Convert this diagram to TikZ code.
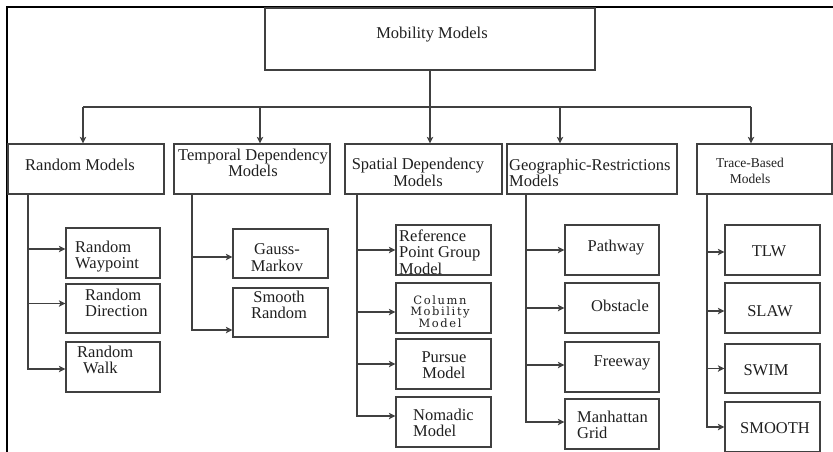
\documentclass[tikz,border=0pt]{standalone}
\usepackage{fontspec}
\setmainfont{Liberation Serif}
\newfontfamily\colfont[LetterSpace=14]{DejaVu Serif}
\usetikzlibrary{arrows.meta}
\tikzset{
  box/.style={draw=black!75, line width=1.2pt, inner sep=0pt},
  txt/.style={inner sep=0pt, text=black!88, font=\fontsize{16.5}{16.5}\selectfont},
  smalltxt/.style={inner sep=0pt, text=black!88, font=\fontsize{13.5}{16}\selectfont},
  coltxt/.style={inner sep=0pt, text=black!88, font=\colfont\fontsize{11.5}{10.5}\selectfont},
  conn/.style={draw=black!75, line width=1.1pt},
  arr/.style={conn, -{Stealth[length=6.5pt,width=6.5pt,inset=1.5pt]}},
  frame/.style={draw=black, line width=1.4pt}
}
\begin{document}
\begin{tikzpicture}[x=1pt,y=-1pt]
\useasboundingbox (0,0) rectangle (833,451);
% frame
\draw[frame] (7,452) -- (7,7) -- (834,7);
% level 0
\node[box, minimum width=330, minimum height=62] (root) at (430,39) {};
\node[txt] (troot) at (432,35) {Mobility Models};
% level 1
\node[box, minimum width=156, minimum height=50] (random) at (86,169) {};
\node[box, minimum width=156, minimum height=50] (temporal) at (252,169) {};
\node[box, minimum width=157, minimum height=50] (spatial) at (423.5,169) {};
\node[box, minimum width=170, minimum height=50] (geo) at (592,169) {};
\node[box, minimum width=135, minimum height=50] (trace) at (764.5,169) {};
\node[txt] (trandom) at (80,165) {Random Models};
\node[txt, align=center] (ttemporal) at (253,163) {Temporal Dependency\\Models};
\node[txt, align=center] (tspatial) at (418,172.5) {Spatial Dependency\\Models};
\node[txt, align=left, anchor=west] (tgeo) at (509,173) {Geographic-Restrictions\\Models};
\node[smalltxt, align=center] (ttrace) at (750,171) {Trace-Based\\Models};
% level 2: random
\node[box, minimum width=94, minimum height=50] (rwp) at (113,253) {};
\node[box, minimum width=94, minimum height=49] (rdir) at (113,308.5) {};
\node[box, minimum width=94, minimum height=50] (rwalk) at (113,367) {};
\node[txt, align=left, anchor=west] (trwp) at (75,256.5) {Random\\Waypoint};
\node[txt, align=left, anchor=west] (trdir) at (85,303) {Random\\Direction};
\node[txt, align=left, anchor=west] (trwalk) at (77,360) {Random\\\hspace*{6pt}Walk};
% temporal
\node[box, minimum width=95, minimum height=49] (gm) at (280.5,253.5) {};
\node[box, minimum width=95, minimum height=49] (sr) at (280.5,312.5) {};
\node[txt, align=center] (tgm) at (277,257.5) {Gauss-\\Markov};
\node[txt, align=center] (tsr) at (279,305) {Smooth\\Random};
% spatial
\node[box, minimum width=95, minimum height=50] (rpg) at (443.5,250) {};
\node[box, minimum width=95, minimum height=50] (col) at (443.5,308) {};
\node[box, minimum width=95, minimum height=50] (pur) at (443.5,364) {};
\node[box, minimum width=95, minimum height=50] (nom) at (443.5,422) {};
\node[txt, align=left, anchor=west] (trpg) at (399,252) {Reference\\Point Group\\Model};
\node[coltxt, align=center] (tcol) at (440,312) {Column\\Mobility\\Model};
\node[txt, align=center] (tpur) at (444,365) {Pursue\\Model};
\node[txt, align=left, anchor=west] (tnom) at (413,423) {Nomadic\\Model};
% geographic
\node[box, minimum width=94, minimum height=50] (path) at (612,250) {};
\node[box, minimum width=94, minimum height=50] (obs) at (612,308) {};
\node[box, minimum width=94, minimum height=50] (free) at (612,367) {};
\node[box, minimum width=94, minimum height=50] (man) at (612,424) {};
\node[txt] (tpath) at (616,248) {Pathway};
\node[txt] (tobs) at (620,306) {Obstacle};
\node[txt] (tfree) at (622,363) {Freeway};
\node[txt, align=left, anchor=west] (tman) at (577,425) {Manhattan\\Grid};
% trace
\node[box, minimum width=95, minimum height=50] (tlw) at (772.5,250) {};
\node[box, minimum width=95, minimum height=50] (slaw) at (772.5,308) {};
\node[box, minimum width=95, minimum height=49] (swim) at (772.5,368.5) {};
\node[box, minimum width=95, minimum height=50] (smooth) at (772.5,427) {};
\node[txt] (ttlw) at (769,251) {TLW};
\node[txt] (tslaw) at (770,311) {SLAW};
\node[txt] (tswim) at (766,370) {SWIM};
\node[txt] (tsmooth) at (775,428) {SMOOTH};
% top connectors
\coordinate (b1) at (83,107);
\coordinate (b2) at (260,107);
\coordinate (b4) at (560,107);
\coordinate (b5) at (751,107);
\draw[conn] (b1) -- (b5);
\draw[arr] (root.south) -- (root.south |- spatial.north);
\draw[arr] (b1) -- (b1 |- random.north);
\draw[arr] (b2) -- (b2 |- temporal.north);
\draw[arr] (b4) -- (b4 |- geo.north);
\draw[arr] (b5) -- (b5 |- trace.north);
% spines
\coordinate (rsx) at (28,0);
\coordinate (tsx) at (192,0);
\coordinate (ssx) at (357,0);
\coordinate (gsx) at (526,0);
\coordinate (xsx) at (707,0);
% random
\draw[arr] (rsx |- random.south) |- ([yshift=-2pt]rwalk.west);
\draw[arr] ([yshift=4pt]rwp.west -| rsx) -- ([yshift=4pt]rwp.west);
\draw[arr] ([yshift=5pt]rdir.west -| rsx) -- ([yshift=5pt]rdir.west);
% temporal
\draw[arr] (tsx |- temporal.south) |- ([yshift=-17.5pt]sr.west);
\draw[arr] ([yshift=-3.5pt]gm.west -| tsx) -- ([yshift=-3.5pt]gm.west);
% spatial
\draw[arr] (ssx |- spatial.south) |- ([yshift=6pt]nom.west);
\draw[arr] (rpg.west -| ssx) -- (rpg.west);
\draw[arr] ([yshift=-4pt]col.west -| ssx) -- ([yshift=-4pt]col.west);
\draw[arr] (pur.west -| ssx) -- (pur.west);
% geographic
\draw[arr] (gsx |- geo.south) |- ([yshift=2pt]man.west);
\draw[arr] (path.west -| gsx) -- (path.west);
\draw[arr] (obs.west -| gsx) -- (obs.west);
\draw[arr] ([yshift=2pt]free.west -| gsx) -- ([yshift=2pt]free.west);
% trace
\draw[arr] (xsx |- trace.south) |- (smooth.west);
\draw[arr] ([yshift=-2pt]tlw.west -| xsx) -- ([yshift=-2pt]tlw.west);
\draw[arr] ([yshift=-3pt]slaw.west -| xsx) -- ([yshift=-3pt]slaw.west);
\draw[arr] (swim.west -| xsx) -- (swim.west);
\end{tikzpicture}
\end{document}
